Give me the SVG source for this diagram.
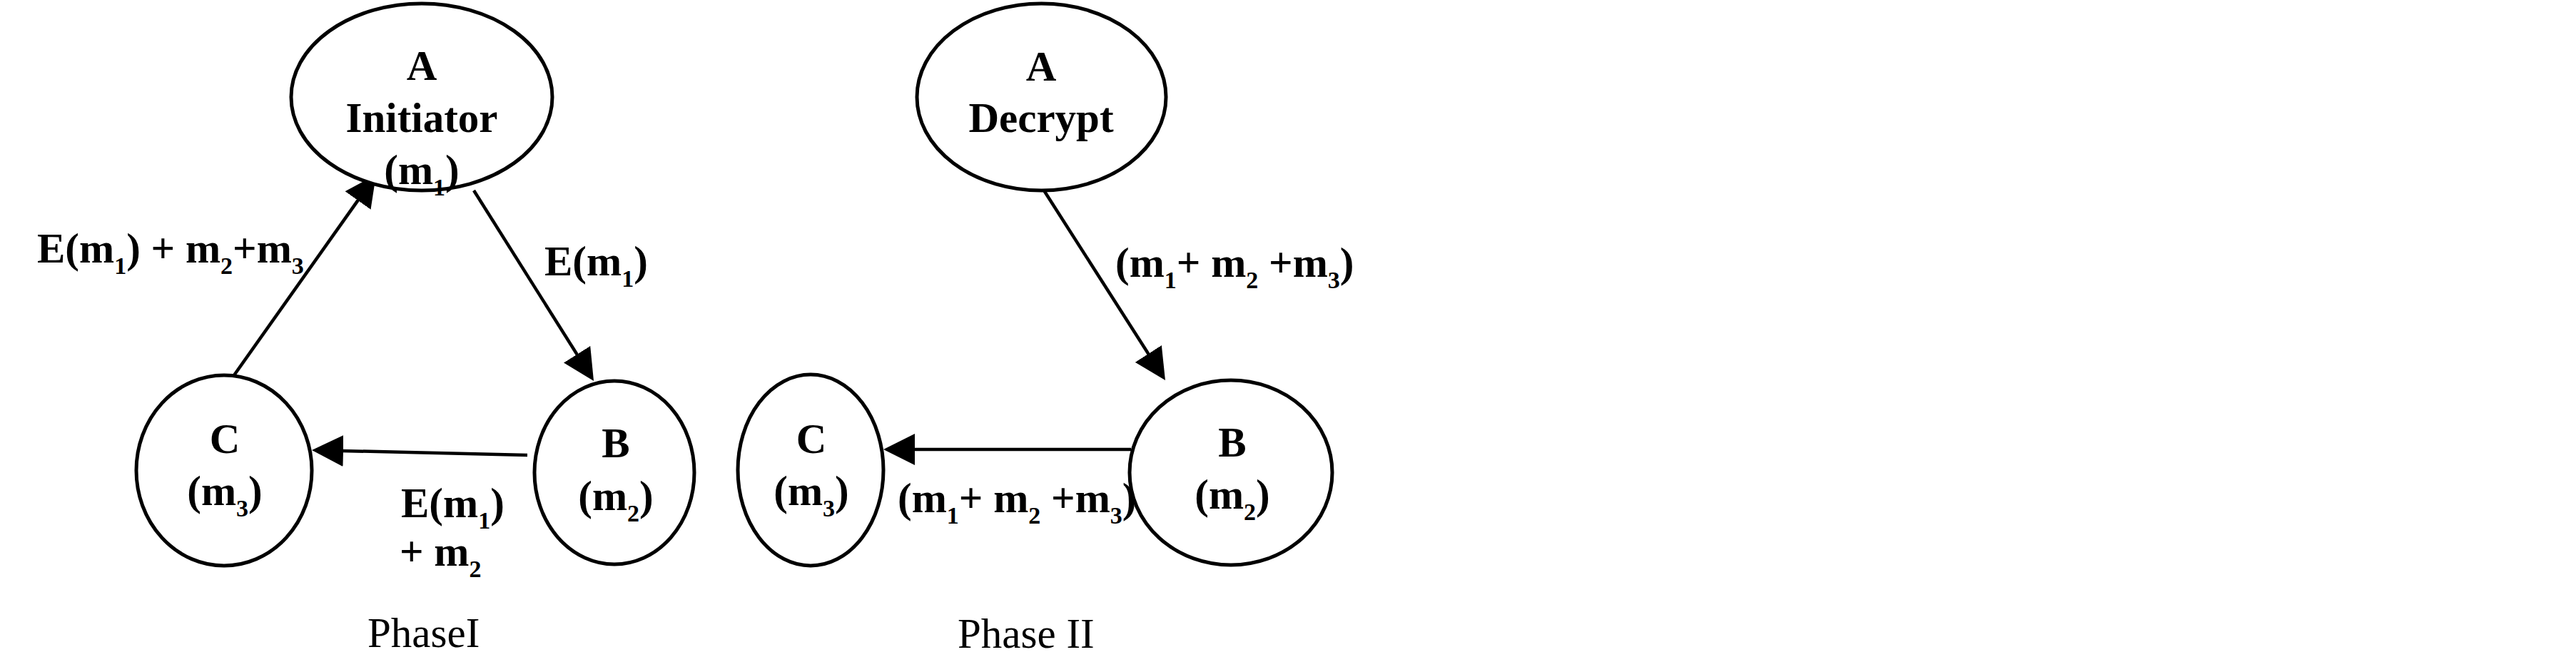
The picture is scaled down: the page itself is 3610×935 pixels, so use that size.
<svg xmlns="http://www.w3.org/2000/svg" width="3610" height="935" viewBox="0 0 3610 935">
<style>
.node{fill:#fff;stroke:#000;stroke-width:5}
.t{font-family:"Liberation Serif","Times New Roman",serif;font-weight:bold;font-size:59px;fill:#000}
.c{text-anchor:middle}
.cap{font-family:"Liberation Serif","Times New Roman",serif;font-size:59px;fill:#000}
.conn line{stroke:#000;stroke-width:4.5;fill:none}
</style>
<defs>
<marker id="arr" markerUnits="userSpaceOnUse" markerWidth="44" markerHeight="44" refX="34" refY="22" orient="auto" viewBox="0 0 44 44">
<path d="M0,0 L44,22 L0,44 Z" fill="#000"/>
</marker>
</defs>
<rect width="3610" height="935" fill="#fff"/>

<g id="connectors" class="conn">
<line x1="664" y1="267" x2="826.7" y2="525.5" marker-end="url(#arr)"/>
<line x1="739" y1="638" x2="447" y2="631.2" marker-end="url(#arr)"/>
<line x1="328" y1="526" x2="521.2" y2="253.2" marker-end="url(#arr)"/>
<line x1="1463" y1="267" x2="1627.6" y2="524.6" marker-end="url(#arr)"/>
<line x1="1585" y1="630" x2="1248" y2="630" marker-end="url(#arr)"/>
</g>

<g id="p1-A">
<ellipse class="node" cx="591" cy="136" rx="183" ry="131"/>
<text class="t c" x="591" y="112">A</text>
<text class="t c" x="591" y="185">Initiator</text>
<text class="t c" x="591" y="258">(m<tspan font-size="34" dy="16">1</tspan><tspan dy="-16">)</tspan></text>
</g>
<g id="p1-C">
<ellipse class="node" cx="314" cy="659.5" rx="123" ry="133.5"/>
<text class="t c" x="315" y="635">C</text>
<text class="t c" x="315" y="708">(m<tspan font-size="34" dy="16">3</tspan><tspan dy="-16">)</tspan></text>
</g>
<g id="p1-B">
<ellipse class="node" cx="861" cy="662.5" rx="112" ry="128.5"/>
<text class="t c" x="863" y="641">B</text>
<text class="t c" x="863" y="715">(m<tspan font-size="34" dy="16">2</tspan><tspan dy="-16">)</tspan></text>
</g>

<g id="p1-labels">
<text class="t" x="52" y="368">E(m<tspan font-size="34" dy="16">1</tspan><tspan dy="-16">) + m</tspan><tspan font-size="34" dy="16">2</tspan><tspan dy="-16">+m</tspan><tspan font-size="34" dy="16">3</tspan></text>
<text class="t" x="763" y="386">E(m<tspan font-size="34" dy="16">1</tspan><tspan dy="-16">)</tspan></text>
<text class="t" x="562" y="725">E(m<tspan font-size="34" dy="16">1</tspan><tspan dy="-16">)</tspan></text>
<text class="t" x="560" y="793">+ m<tspan font-size="34" dy="16">2</tspan></text>
<text class="cap" x="515" y="907">PhaseI</text>
</g>

<g id="p2-A">
<ellipse class="node" cx="1459.5" cy="136" rx="174.5" ry="131"/>
<text class="t c" x="1459" y="113">A</text>
<text class="t c" x="1459" y="185">Decrypt</text>
</g>
<g id="p2-C">
<ellipse class="node" cx="1136" cy="659" rx="102" ry="134"/>
<text class="t c" x="1137" y="635">C</text>
<text class="t c" x="1137" y="708">(m<tspan font-size="34" dy="16">3</tspan><tspan dy="-16">)</tspan></text>
</g>
<g id="p2-labels">
<text class="t" x="1563" y="388">(m<tspan font-size="34" dy="16">1</tspan><tspan dy="-16">+ m</tspan><tspan font-size="34" dy="16">2</tspan><tspan dy="-16"> +m</tspan><tspan font-size="34" dy="16">3</tspan><tspan dy="-16">)</tspan></text>
<text class="t" x="1258" y="718">(m<tspan font-size="34" dy="16">1</tspan><tspan dy="-16">+ m</tspan><tspan font-size="34" dy="16">2</tspan><tspan dy="-16"> +m</tspan><tspan font-size="34" dy="16">3</tspan><tspan dy="-16">)</tspan></text>
<text class="cap" x="1342" y="908">Phase II</text>
</g>
<g id="p2-B">
<ellipse class="node" cx="1725" cy="662.5" rx="142" ry="129.5"/>
<text class="t c" x="1727" y="640">B</text>
<text class="t c" x="1727" y="713">(m<tspan font-size="34" dy="16">2</tspan><tspan dy="-16">)</tspan></text>
</g>
</svg>
